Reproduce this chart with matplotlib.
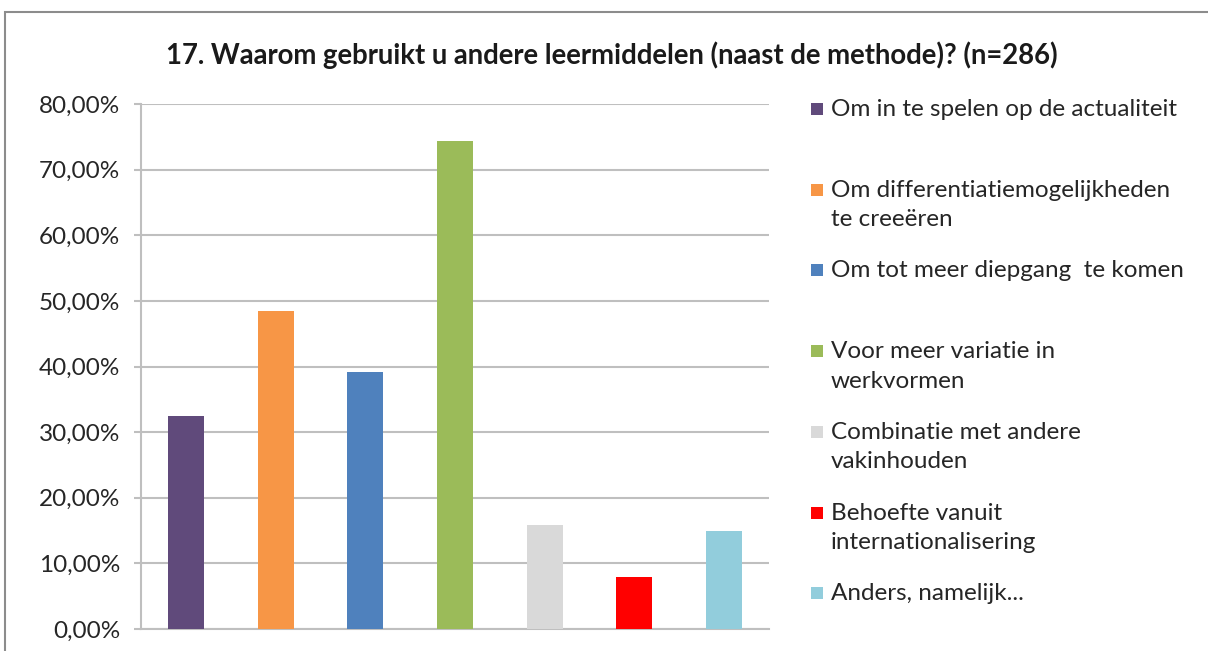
import matplotlib
matplotlib.use("Agg")
import matplotlib.pyplot as plt
from matplotlib.patches import Rectangle
from matplotlib.ticker import FuncFormatter, MultipleLocator

plt.rcParams['font.family'] = ['Lato', 'DejaVu Sans']

categories = [
    "Om in te spelen op de actualiteit",
    "Om differentiatiemogelijkheden\nte creeëren",
    "Om tot meer diepgang  te komen",
    "Voor meer variatie in\nwerkvormen",
    "Combinatie met andere\nvakinhouden",
    "Behoefte vanuit\ninternationalisering",
    "Anders, namelijk...",
]
values = [32.4, 48.4, 39.2, 74.3, 15.8, 7.9, 15.0]
colors = ["#604a7b", "#f79646", "#4f81bd", "#9bbb59", "#d9d9d9", "#ff0000", "#92cddc"]
title = "17. Waarom gebruikt u andere leermiddelen (naast de methode)? (n=286)"

W, H = 1208, 651
fig = plt.figure(figsize=(W / 100, H / 100), dpi=100)

# outer chart frame
fig.patches.append(Rectangle((5 / W, -0.1), 1.2, (H - 12) / H + 0.1,
                             transform=fig.transFigure, fill=False,
                             edgecolor="#8c8c8c", linewidth=1.5))

ax = fig.add_axes([141 / W, (H - 629) / H, (769 - 141) / W, (629 - 104) / H])
x = list(range(len(values)))
ax.bar(x, values, width=0.4, color=colors, zorder=3)
ax.set_xlim(-0.5, len(values) - 0.5)
ax.set_ylim(0, 80)
ax.yaxis.set_major_locator(MultipleLocator(10))
ax.yaxis.set_major_formatter(FuncFormatter(lambda v, p: f"{v:.2f}".replace(".", ",") + "%"))
ax.set_xticks([])
ax.grid(axis="y", color="#bfbfbf", linewidth=1.5, zorder=0)
for s in ["top", "right"]:
    ax.spines[s].set_visible(False)
for s in ["left", "bottom"]:
    ax.spines[s].set_color("#bfbfbf")
    ax.spines[s].set_linewidth(1.5)
ax.tick_params(axis="y", length=5, width=1.5, color="#bfbfbf", labelsize=17.5,
               labelcolor="#262626", pad=10)

fig.text(612 / W, 1 - 55 / H, title, ha="center", va="center",
         fontsize=19.8, fontweight="bold", color="#1a1a1a")

# legend (one entry per bar)
y0, step = 108, 80.7
for i, (lab, col) in enumerate(zip(categories, colors)):
    yc = y0 + i * step
    fig.patches.append(Rectangle((811 / W, 1 - (yc + 7) / H), 12 / W, 12 / H,
                                 transform=fig.transFigure, facecolor=col, edgecolor="none"))
    fig.text(831 / W, 1 - (yc - 9) / H, lab, ha="left", va="top",
             fontsize=17.5, color="#262626", linespacing=1.5)

fig.savefig("out.png", dpi=100)
